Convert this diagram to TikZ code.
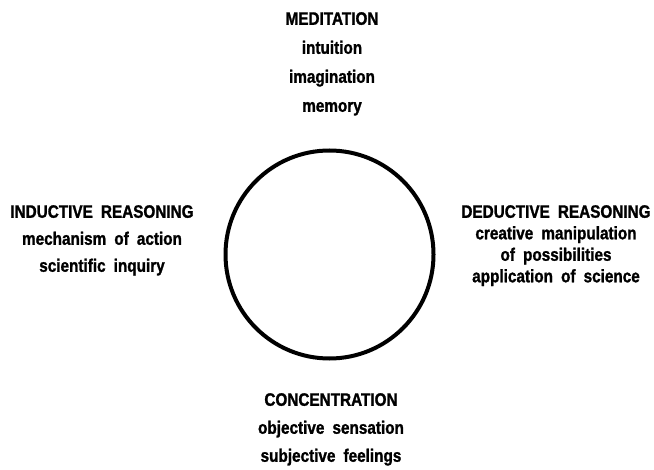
\documentclass[tikz,border=0pt]{standalone}
\usepackage{fontspec}
\newfontfamily\lblfont{Liberation Sans}[FakeStretch=0.85,FakeBold=1.3]
\newcommand\gap{\hspace{0.45em}}
\begin{document}
\begin{tikzpicture}[x=1bp,y=-1bp,
  label/.style={font=\lblfont\bfseries\fontsize{18bp}{#1}\selectfont,
    align=center, anchor=north, inner sep=0pt},
  ring/.style={draw=black, line width=4bp}]
  \useasboundingbox (0,0) rectangle (654,470);
  % central circle
  \node[ring, circle, minimum size=208bp, inner sep=0pt] (c) at (329.5,254.5) {};
  % four labelled quarters
  \node[label=29bp] (med) at (332,12) {MEDITATION\\intuition\\imagination\\memory};
  \node[label=27bp] (ind) at (102,205) {INDUCTIVE\gap REASONING\\mechanism\gap of\gap action\\scientific\gap inquiry};
  \node[label=21.5bp] (ded) at (556,205) {DEDUCTIVE\gap REASONING\\creative\gap manipulation\\of\gap possibilities\\application\gap of\gap science};
  \node[label=28bp] (con) at (331,393) {CONCENTRATION\\objective\gap sensation\\subjective\gap feelings};
\end{tikzpicture}
\end{document}
